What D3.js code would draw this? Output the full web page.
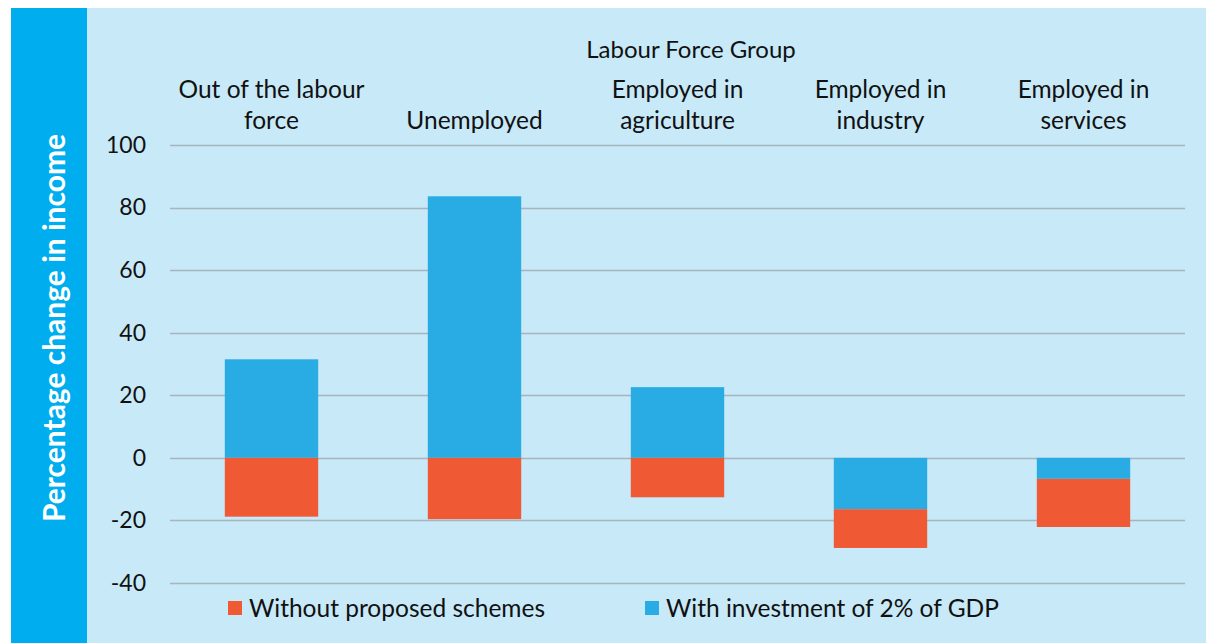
<!DOCTYPE html>
<html>
<head>
<meta charset="utf-8">
<script src="https://cdn.jsdelivr.net/npm/d3@7"></script>
<style>
  html, body { margin: 0; padding: 0; background: #ffffff; }
  svg { display: block; }
  text { font-family: Lato, "Open Sans", sans-serif; fill: #111; }
</style>
</head>
<body>
<svg id="chart" width="1206" height="643"></svg>
<script>
// Labour force groups (two-line labels)
const categories = [
  ["Out of the labour", "force"],
  ["Unemployed"],
  ["Employed in", "agriculture"],
  ["Employed in", "industry"],
  ["Employed in", "services"]
];
// Percentage change in income by scenario
const withInvestment = [31.5, 83.6, 22.6, -16.4, -6.7];
const withoutSchemes = [-18.8, -19.6, -12.6, -12.4, -15.4];
const yTicks = [100, 80, 60, 40, 20, 0, -20, -40];
const seriesNames = ["Without proposed schemes", "With investment of 2% of GDP"];
const colors = { without: "#EF5A35", with: "#29ACE3" };

const svg = d3.select("#chart");
const W = 1206, H = 643;

// panel backgrounds
svg.append("rect").attr("x", 11).attr("y", 8).attr("width", 76).attr("height", H - 8).attr("fill", "#00AEEF");
svg.append("rect").attr("x", 87).attr("y", 8).attr("width", W - 87).attr("height", H - 8).attr("fill", "#C7E9F8");

// vertical axis title
svg.append("text")
  .attr("transform", "translate(65,328) rotate(-90)")
  .attr("text-anchor", "middle")
  .style("fill", "#ffffff")
  .style("font-weight", "bold")
  .style("font-size", "30px")
  .text("Percentage change in income");

const x = d3.scaleBand().domain(d3.range(categories.length)).range([170, 1185]).paddingInner(0.54).paddingOuter(0.27);
const y = d3.scaleLinear().domain([-40, 100]).range([583, 145]);

// gridlines
svg.append("g").selectAll("line").data(yTicks).join("line")
  .attr("x1", 170).attr("x2", 1185)
  .attr("y1", d => Math.round(y(d)) + 0.5).attr("y2", d => Math.round(y(d)) + 0.5)
  .attr("stroke", "#A9B5BD").attr("stroke-width", 1.6);

// y tick labels (plain hyphen for negatives)
const yAxis = d3.axisLeft(y).tickValues(yTicks).tickSize(0).tickPadding(0).tickFormat(d => String(d));
const gy = svg.append("g").attr("transform", "translate(146,0)").call(yAxis);
gy.select(".domain").remove();
gy.selectAll("text").attr("fill", "#111").style("font-size", "23px").style("font-family", "Lato, sans-serif");

// stacked bars (investment series stacks first from zero)
const rows = withInvestment.map((v, i) => ({ i, with: v, without: withoutSchemes[i] }));
const stack = d3.stack().keys(["with", "without"]).offset(d3.stackOffsetDiverging);
const stacked = stack(rows);
svg.append("g").selectAll("g").data(stacked).join("g")
  .attr("fill", s => colors[s.key])
  .selectAll("rect").data(s => s).join("rect")
  .attr("x", d => x(d.data.i))
  .attr("width", x.bandwidth())
  .attr("y", d => y(Math.max(d[0], d[1])))
  .attr("height", d => Math.abs(y(d[0]) - y(d[1])));

// category labels along the top (bottom-aligned lines)
const catG = svg.append("g");
categories.forEach((lines, i) => {
  const cx = x(i) + x.bandwidth() / 2;
  lines.slice().reverse().forEach((ln, k) => {
    catG.append("text")
      .attr("x", cx).attr("y", 129 - k * 31)
      .attr("text-anchor", "middle")
      .style("font-size", "24.5px")
      .text(ln);
  });
});

// axis group title
svg.append("text")
  .attr("x", 691).attr("y", 58)
  .attr("text-anchor", "middle")
  .style("font-size", "24px")
  .text("Labour Force Group");

// legend
const legend = [
  { name: seriesNames[0], color: colors.without, x: 228 },
  { name: seriesNames[1], color: colors.with, x: 645 }
];
const lg = svg.append("g").selectAll("g").data(legend).join("g")
  .attr("transform", d => `translate(${d.x},601)`);
lg.append("rect").attr("width", 14).attr("height", 14).attr("fill", d => d.color);
lg.append("text").attr("x", 21).attr("y", 15.5).style("font-size", "24.5px").text(d => d.name);
</script>
</body>
</html>
